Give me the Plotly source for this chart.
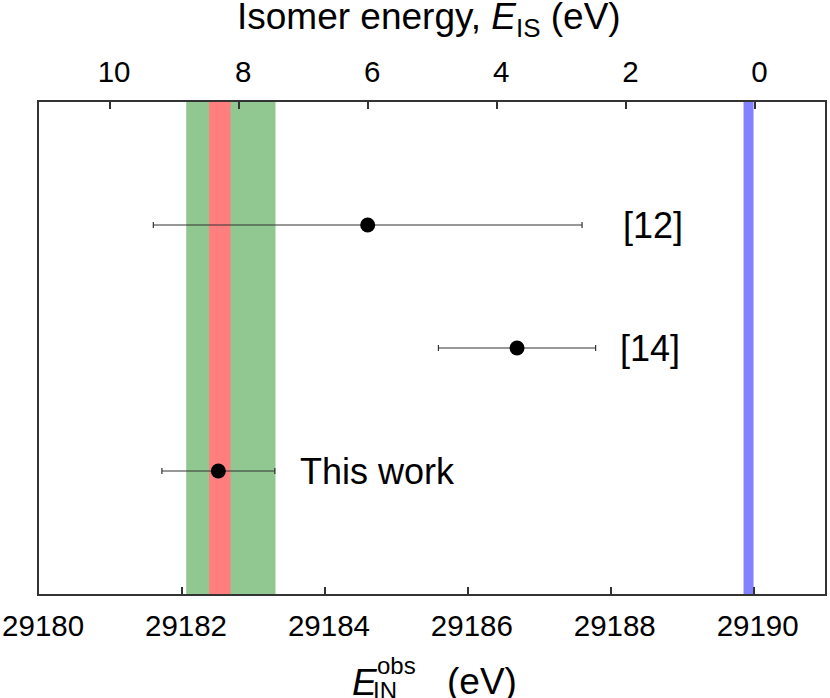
import plotly.graph_objects as go

# ---- data ----
labels = ["[12]", "[14]", "This work"]
e_obs = [29184.60, 29186.69, 29182.51]      # eV
e_err = [3.0, 1.1, 0.79]                    # eV
row = [3, 2, 1]
label_x = [29188.14, 29188.10, 29183.62]

green_band = [29182.06, 29183.31]
red_band = [29182.38, 29182.68]
blue_band = [29189.86, 29190.00]

bottom_ticks = [29180, 29182, 29184, 29186, 29188, 29190]
top_ticks = [10, 8, 6, 4, 2, 0]

FONT = "Liberation Sans, Arial, sans-serif"
W, H = 830, 698
L, R, T, B = 39, 3, 102, 104
PW, PH = W - L - R, H - T - B

def px2paper_x(px):
    return (px - L) / PW

def px2paper_y(py):
    return (H - B - py) / PH

fig = go.Figure()

fig.add_trace(go.Scatter(
    x=e_obs, y=row, mode="markers",
    marker=dict(color="black", size=15),
    error_x=dict(type="data", array=e_err, color="#333", thickness=1.2, width=3),
    showlegend=False, hoverinfo="skip",
))
# invisible trace to anchor top axis
fig.add_trace(go.Scatter(x=top_ticks, y=[None]*len(top_ticks), xaxis="x2", yaxis="y",
                         mode="markers", showlegend=False, hoverinfo="skip"))

shapes = []
for band, col in [(green_band, "#91C891"), (red_band, "#FF7F7F"), (blue_band, "#8282FF")]:
    shapes.append(dict(type="rect", xref="x", yref="paper", x0=band[0], x1=band[1],
                       y0=0, y1=1, fillcolor=col, line=dict(width=0), layer="below"))

annotations = []
for lx, ly, lab in zip(label_x, row, labels):
    annotations.append(dict(x=lx, y=ly, xref="x", yref="y", text=lab, showarrow=False,
                            xanchor="left", yanchor="middle",
                            font=dict(family=FONT, size=36, color="black")))

# bottom axis title with stacked sub/superscript
annotations += [
    dict(x=px2paper_x(351), y=px2paper_y(682), xref="paper", yref="paper", text="<i>E</i>",
         showarrow=False, xanchor="left", yanchor="middle",
         font=dict(family=FONT, size=37, color="black")),
    dict(x=px2paper_x(372), y=px2paper_y(690), xref="paper", yref="paper", text="IN",
         showarrow=False, xanchor="left", yanchor="middle",
         font=dict(family=FONT, size=24, color="black")),
    dict(x=px2paper_x(376), y=px2paper_y(665), xref="paper", yref="paper", text="obs",
         showarrow=False, xanchor="left", yanchor="middle",
         font=dict(family=FONT, size=24, color="black")),
    dict(x=px2paper_x(446), y=px2paper_y(681), xref="paper", yref="paper", text="(eV)",
         showarrow=False, xanchor="left", yanchor="middle",
         font=dict(family=FONT, size=37, color="black")),
    dict(x=px2paper_x(430), y=px2paper_y(19), xref="paper", yref="paper",
         text="Isomer energy, <i>E</i><sub>IS</sub> (eV)",
         showarrow=False, xanchor="center", yanchor="middle",
         font=dict(family=FONT, size=37, color="black")),
]

axis_common = dict(ticks="inside", ticklen=7, tickwidth=1.5, tickcolor="#333",
                   showline=True, linecolor="#333", linewidth=2,
                   showgrid=False, zeroline=False, automargin=False,
                   ticklabeloverflow="allow",
                   tickfont=dict(family=FONT, size=29.5, color="black"))

fig.update_layout(
    width=W, height=H,
    margin=dict(l=L, r=R, t=T, b=B, pad=0),
    paper_bgcolor="white", plot_bgcolor="white",
    font=dict(family=FONT, color="black"),
    shapes=shapes, annotations=annotations,
    xaxis=dict(range=[29180, 29191], tickvals=bottom_ticks,
               ticktext=["\u00a0" + str(t) for t in bottom_ticks],
               ticklabelstandoff=5, **axis_common),
    xaxis2=dict(range=[11.1, -1.08], overlaying="x", side="top", tickvals=top_ticks,
                ticktext=["\u00a0" + str(t) for t in top_ticks],
                ticklabelstandoff=6, **axis_common),
    yaxis=dict(range=[0, 4], showticklabels=False, ticks="", showgrid=False,
               zeroline=False, showline=True, mirror=True, linecolor="#333", linewidth=2),
)

fig.write_html("out.html", config={"displayModeBar": False},
               post_script="document.body.style.margin='0';document.body.style.overflow='hidden';")
